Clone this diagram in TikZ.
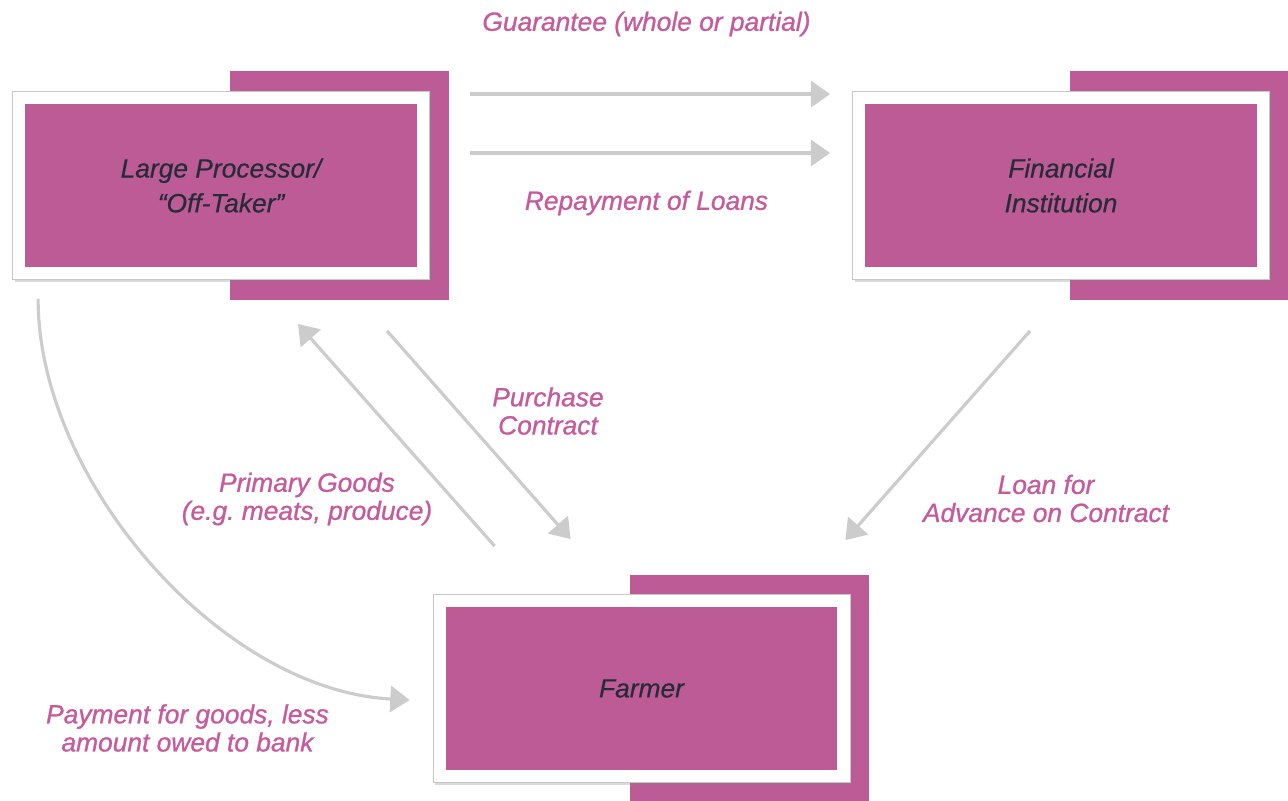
\documentclass[tikz,border=0pt]{standalone}
\usepackage{fontspec}
\setmainfont{Liberation Sans}
\newfontfamily\flowfont[Ligatures=TeX, FakeBold=0.9]{Liberation Sans}
\newfontfamily\boxfont[Ligatures=TeX, FakeBold=0.4]{Liberation Sans}
\usetikzlibrary{arrows.meta,calc,shadows,positioning}

\definecolor{plum}{HTML}{BD5B97}
\definecolor{labelpink}{HTML}{C55A9C}
\definecolor{flowgray}{HTML}{CCCCCC}
\definecolor{inktext}{HTML}{262B3A}

\tikzset{
  backsq/.style={fill=plum},
  frame/.style={fill=white, draw=black!22, line width=0.5pt,
    minimum width=8.34cm, minimum height=3.76cm, inner sep=0pt,
    drop shadow={shadow xshift=1.2pt, shadow yshift=-1.6pt, opacity=0.3}},
  entity/.style={fill=plum, minimum width=7.84cm, minimum height=3.28cm,
    inner sep=0pt, text=inktext, align=center,
    font=\boxfont\itshape\fontsize{15}{19.8}\selectfont},
  flowlabel/.style={text=labelpink, align=center,
    font=\flowfont\itshape\fontsize{15}{16}\selectfont},
  flow/.style={draw=flowgray, line width=1.8pt,
    -{Triangle[length=11pt,width=15pt]}},
}

\begin{document}
\begin{tikzpicture}[x=0.02cm, y=-0.02cm]
    \useasboundingbox (0,0) rectangle (1288,801);

    % Plum squares behind the three boxes
    \fill[backsq] (230,71) rectangle (449,300);
    \fill[backsq] (1070,71) rectangle (1288,300);
    \fill[backsq] (630,575) rectangle (869,801);

    % White frames
    \node[frame] (procframe) at (221,185.5) {};
    \node[frame] (finframe) at (1061,185.5) {};
    \node[frame] (farmframe) at (641.5,688.5) {};

    % Boxes with their names
    \node[entity] (proc) at (procframe) {Large Processor/\\“Off-Taker”};
    \node[entity] (fin) at (finframe) {Financial\\Institution};
    \node[entity] (farm) at (farmframe) {Farmer};

    % Flows between the parties
    \draw[flow] ($(procframe.north east)+(40,3)$) -- ($(finframe.north west)+(-22,3)$);
    \draw[flow] ($(procframe.east)+(40,-32.5)$) -- ($(finframe.west)+(-22,-32.5)$);
    \draw[flow] ($(farmframe.north west)+(62,-48)$) -- ($(procframe.south)+(77,44)$);
    \draw[flow] ($(procframe.south)+(166,51)$) -- ($(farmframe.north west)+(138,-55)$);
    \draw[flow] ($(finframe.south)+(-31,51)$) -- ($(farmframe.north east)+(-5,-54)$);
    \draw[flow] ($(procframe.south west)+(26,19)$)
        .. controls (38,480) and (220,690) .. ($(farmframe.west)+(-23,11.5)$);

    % Flow labels
    \node[flowlabel] (guarlbl) at (646.5,24) {Guarantee (whole or partial)};
    \node[flowlabel] (repaylbl) at (646.5,203) {Repayment of Loans};
    \node[flowlabel] (purchlbl) at (548,411) {Purchase\\Contract};
    \node[flowlabel] (goodslbl) at (307,499) {Primary Goods\\(e.g.\ meats, produce)};
    \node[flowlabel] (loanlbl) at (1046,498.5) {Loan for\\Advance on Contract};
    \node[flowlabel] (paylbl) at (187.5,728) {Payment for goods, less\\amount owed to bank};
\end{tikzpicture}
\end{document}
